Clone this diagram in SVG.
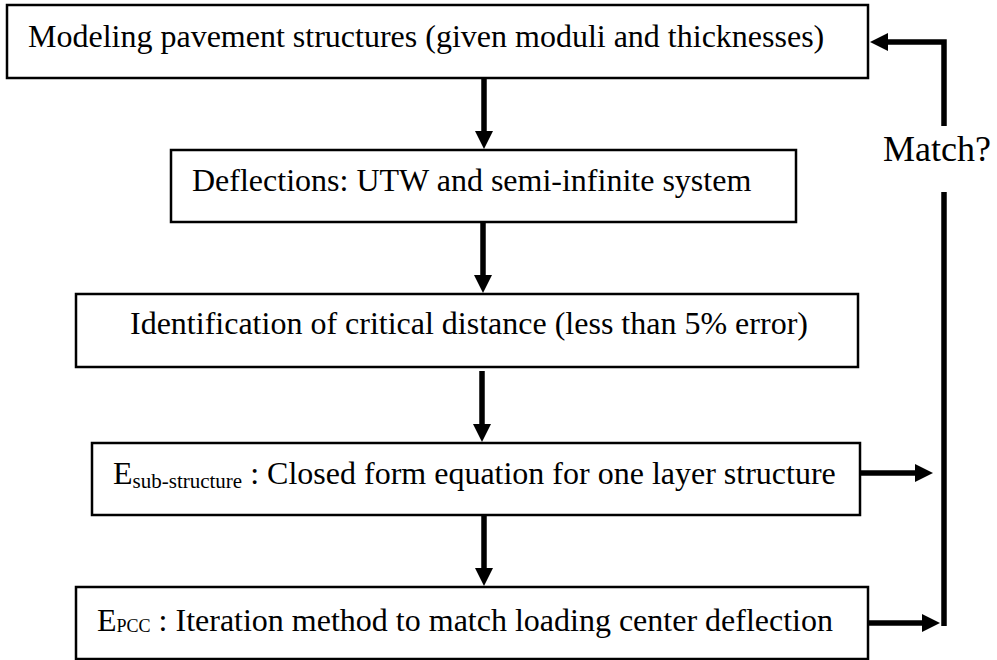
<svg xmlns="http://www.w3.org/2000/svg" width="997" height="660" viewBox="0 0 997 660">
<style>
.box{fill:#fff;stroke:#000;stroke-width:2.5}
.t{font-size:32px;fill:#000}
.sub{font-size:21px}
.sub2{font-size:18px}
.c{fill:none;stroke:#000;stroke-width:5.5;stroke-linejoin:miter}
.ca{fill:none;stroke:#000;stroke-width:5.5;marker-end:url(#ah)}
</style>
<defs>
<marker id="ah" markerUnits="userSpaceOnUse" markerWidth="20" markerHeight="20" refX="1" refY="9" orient="auto">
<path d="M0,0 L18,9 L0,18 z" fill="#000"/>
</marker>
</defs>
<rect width="997" height="660" fill="#fff"/>
<g font-family="'Liberation Serif', 'Times New Roman', Times, serif">
<g id="n1">
<rect class="box" x="7" y="5" width="861" height="73"/>
<text class="t" x="28" y="47">Modeling pavement structures (given moduli and thicknesses)</text>
</g>
<g id="n2">
<rect class="box" x="171" y="150" width="625" height="72"/>
<text class="t" x="192" y="191">Deflections: UTW and semi-infinite system</text>
</g>
<g id="n3">
<rect class="box" x="76" y="294" width="782" height="73"/>
<text class="t" x="130" y="334">Identification of critical distance (less than 5% error)</text>
</g>
<g id="n4">
<rect class="box" x="92" y="443" width="768" height="72"/>
<text class="t" x="113" y="484">E<tspan class="sub" dy="4">sub-structure</tspan><tspan dy="-4"> : Closed form equation for one layer structure</tspan></text>
</g>
<g id="n5">
<rect class="box" x="76" y="587" width="792" height="72"/>
<text class="t" x="97" y="631">E<tspan class="sub2" dy="1">PCC</tspan><tspan dy="-1"> : Iteration method to match loading center deflection</tspan></text>
</g>
<g id="label">
<text class="t" x="883" y="161" style="font-size:36px">Match?</text>
</g>
</g>
<g id="connectors">
<line class="ca" x1="484" y1="79" x2="484" y2="132"/>
<line class="ca" x1="483" y1="223" x2="483" y2="276"/>
<line class="ca" x1="482" y1="371" x2="482" y2="425"/>
<line class="ca" x1="484" y1="516" x2="484" y2="569"/>
<line class="ca" x1="861" y1="473" x2="916" y2="473"/>
<line class="ca" x1="869" y1="623" x2="923" y2="623"/>
<line class="c" x1="944" y1="626" x2="944" y2="192"/>
<polyline class="ca" points="944,126 944,42 887,42"/>
</g>
</svg>
